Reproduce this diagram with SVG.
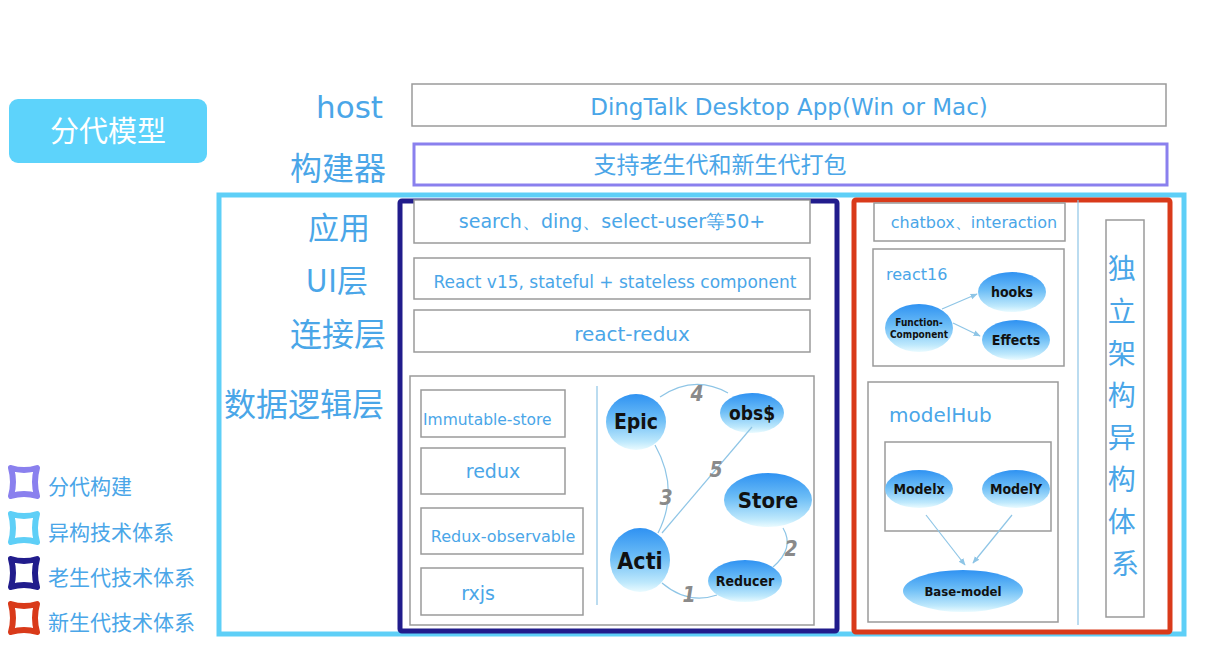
<svg xmlns="http://www.w3.org/2000/svg" width="1218" height="650" viewBox="0 0 1218 650">
<style>
.t{font-family:"Noto Sans CJK SC","Noto Sans",sans-serif;fill:#4aa6e8}
.en{font-family:"DejaVu Sans","Noto Sans",sans-serif;fill:#4aa6e8}
.box{fill:#fff;stroke:#9a9a9a;stroke-width:1.5}
.bub{fill:url(#g);}
.bl{font-family:"DejaVu Sans Condensed","DejaVu Sans",sans-serif;font-stretch:condensed;font-weight:bold;fill:#111;text-anchor:middle}
.num{font-family:"DejaVu Sans Condensed","DejaVu Sans",sans-serif;font-style:italic;font-weight:bold;fill:#8a8a8a;font-size:21px;text-anchor:middle}
.ln{fill:none;stroke:#8ec5e6;stroke-width:1.2}
.c{text-anchor:middle}
.r{text-anchor:end}
</style>
<defs>
<linearGradient id="g" x1="0" y1="0" x2="0" y2="1">
<stop offset="0" stop-color="#2f92f2"/>
<stop offset="0.45" stop-color="#6cbdf6"/>
<stop offset="0.85" stop-color="#bde8fc"/>
<stop offset="1" stop-color="#eafbff"/>
</linearGradient>
<marker id="ar" viewBox="0 0 10 10" refX="9" refY="5" markerWidth="6" markerHeight="6" orient="auto">
<path d="M0,1 L10,5 L0,9 z" fill="#8ec5e6"/>
</marker>
</defs>
<rect width="1218" height="650" fill="#fff"/>

<g id="title">
<rect x="9" y="99" width="198" height="64" rx="9" fill="#5dd3fb"/>
<text x="108" y="142" class="t c" style="fill:#fff" font-size="29">分代模型</text>
</g>

<g id="labels">
<text x="383" y="118" class="en r" font-size="31">host</text>
<text x="386" y="180" class="t r" font-size="32">构建器</text>
<text x="370" y="239" class="t r" font-size="31">应用</text>
<text x="368" y="292" class="t r" font-size="31">UI层</text>
<text x="386" y="346" class="t r" font-size="32">连接层</text>
<text x="384" y="416" class="t r" font-size="32">数据逻辑层</text>
</g>

<g id="host">
<rect x="412" y="84" width="754" height="42" class="box"/>
<text x="789" y="115" class="en c" font-size="23">DingTalk Desktop App(Win or Mac)</text>
</g>
<g id="builder">
<rect x="414" y="144" width="753" height="41" fill="#fff" stroke="#8a80ee" stroke-width="3"/>
<text x="720" y="173" class="t c" font-size="23">支持老生代和新生代打包</text>
</g>

<g id="hetero">
<rect x="219" y="195" width="965" height="439" fill="none" stroke="#5ecff7" stroke-width="5"/>
</g>

<g id="old-gen">
<rect x="400" y="201" width="437" height="430" fill="none" stroke="#211c8c" stroke-width="5" rx="2"/>
<rect x="414" y="200" width="396" height="43" class="box"/>
<text x="612" y="228" class="en c" font-size="19">search、ding、select-user等50+</text>
<rect x="414" y="258" width="396" height="41" class="box"/>
<text x="615" y="288" class="en c" font-size="17">React v15, stateful + stateless component</text>
<rect x="414" y="310" width="396" height="42" class="box"/>
<text x="632" y="341" class="en c" font-size="20">react-redux</text>
</g>

<g id="data-logic">
<rect x="410" y="376" width="404" height="249" class="box"/>
<rect x="421" y="390" width="144" height="47" class="box"/>
<text x="423" y="425" class="en" font-size="15.5">Immutable-store</text>
<rect x="421" y="448" width="144" height="46" class="box"/>
<text x="493" y="478" class="en c" font-size="19">redux</text>
<rect x="421" y="508" width="162" height="46" class="box"/>
<text x="503" y="542" class="en c" font-size="16">Redux-observable</text>
<rect x="421" y="568" width="162" height="47" class="box"/>
<text x="478" y="600" class="en c" font-size="19">rxjs</text>
<line x1="597" y1="386" x2="597" y2="605" stroke="#8ec5e6" stroke-width="1.2"/>
</g>

<g id="epic"><ellipse cx="636" cy="422" rx="30" ry="28" class="bub"/><text x="636" y="429" class="bl" font-size="21">Epic</text></g>
<g id="obs"><ellipse cx="752" cy="413" rx="32" ry="20" class="bub"/><text x="752" y="420" class="bl" font-size="19">obs$</text></g>
<g id="store"><ellipse cx="768" cy="500" rx="44" ry="27" class="bub"/><text x="768" y="508" class="bl" font-size="22">Store</text></g>
<g id="acti"><ellipse cx="640" cy="560" rx="30" ry="32" class="bub"/><text x="640" y="569" class="bl" font-size="23">Acti</text></g>
<g id="reducer"><ellipse cx="745" cy="581" rx="37" ry="21" class="bub"/><text x="745" y="586" class="bl" font-size="14">Reducer</text></g>

<g id="new-gen">
<rect x="854" y="200" width="316" height="432" fill="none" stroke="#d93a1a" stroke-width="5" rx="2"/>
<rect x="874" y="203" width="191" height="38" class="box"/>
<text x="974" y="228" class="en c" font-size="16">chatbox、interaction</text>
<line x1="1078" y1="200" x2="1078" y2="625" stroke="#8ec5e6" stroke-width="1.2"/>
</g>

<g id="react16">
<rect x="873" y="249" width="191" height="117" class="box"/>
<text x="886" y="280" class="en" font-size="16">react16</text>
</g>
<g id="function-component"><ellipse cx="919" cy="328" rx="34" ry="24" class="bub"/><text x="919" y="326" class="bl" font-size="10">Function-</text><text x="919" y="338" class="bl" font-size="10">Component</text></g>
<g id="hooks"><ellipse cx="1012" cy="292" rx="34" ry="20" class="bub"/><text x="1012" y="297" class="bl" font-size="14">hooks</text></g>
<g id="effects"><ellipse cx="1016" cy="340" rx="34" ry="20" class="bub"/><text x="1016" y="345" class="bl" font-size="14">Effects</text></g>

<g id="modelhub">
<rect x="868" y="382" width="190" height="240" class="box"/>
<text x="889" y="422" class="en" font-size="20">modelHub</text>
<rect x="885" y="442" width="166" height="89" class="box"/>
</g>
<g id="modelx"><ellipse cx="919" cy="489" rx="34" ry="19" class="bub"/><text x="919" y="494" class="bl" font-size="14">Modelx</text></g>
<g id="modely"><ellipse cx="1016" cy="489" rx="34" ry="19" class="bub"/><text x="1016" y="494" class="bl" font-size="14">ModelY</text></g>
<g id="base-model"><ellipse cx="963" cy="591" rx="60" ry="21" class="bub"/><text x="963" y="596" class="bl" font-size="13">Base-model</text></g>

<g id="connectors">
<path d="M660,397 Q694,374 728,393" class="ln"/>
<path d="M655,445 Q680,490 658,533" class="ln"/>
<path d="M662,533 L752,427" class="ln"/>
<path d="M783,528 Q795,548 773,567" class="ln"/>
<path d="M662,583 Q688,605 717,595" class="ln"/>
<path d="M942,309 L977,294" class="ln" marker-end="url(#ar)"/>
<path d="M953,323 L980,336" class="ln" marker-end="url(#ar)"/>
<path d="M926,515 L965,565" class="ln" marker-end="url(#ar)"/>
<path d="M1012,515 L973,563" class="ln" marker-end="url(#ar)"/>
</g>

<g id="nums">
<text x="697" y="401" class="num">4</text>
<text x="666" y="505" class="num">3</text>
<text x="716" y="477" class="num">5</text>
<text x="791" y="556" class="num">2</text>
<text x="689" y="602" class="num">1</text>
</g>

<g id="independent">
<rect x="1106" y="220" width="38" height="397" class="box"/>
<text class="t c" font-size="28">
<tspan x="1125" y="279">独</tspan>
<tspan x="1125" y="322">立</tspan>
<tspan x="1125" y="364">架</tspan>
<tspan x="1125" y="406">构</tspan>
<tspan x="1125" y="448">异</tspan>
<tspan x="1125" y="490">构</tspan>
<tspan x="1125" y="532">体</tspan>
<tspan x="1125" y="574">系</tspan>
</text>
</g>

<g id="legend">
<path d="M11,468 Q24,472 37,468 Q33,482 37,496 Q24,492 11,496 Q15,482 11,468 z" fill="none" stroke="#8a80ee" stroke-width="6" stroke-linejoin="round"/>
<text x="48" y="494" class="t" font-size="21">分代构建</text>
<path d="M11,514 Q24,518 37,514 Q33,528 37,542 Q24,538 11,542 Q15,528 11,514 z" fill="none" stroke="#5ecff7" stroke-width="6" stroke-linejoin="round"/>
<text x="48" y="540" class="t" font-size="21">异构技术体系</text>
<path d="M11,559 Q24,563 37,559 Q33,573 37,587 Q24,583 11,587 Q15,573 11,559 z" fill="none" stroke="#211c8c" stroke-width="6" stroke-linejoin="round"/>
<text x="48" y="585" class="t" font-size="21">老生代技术体系</text>
<path d="M11,604 Q24,608 37,604 Q33,618 37,632 Q24,628 11,632 Q15,618 11,604 z" fill="none" stroke="#d93a1a" stroke-width="6" stroke-linejoin="round"/>
<text x="48" y="630" class="t" font-size="21">新生代技术体系</text>
</g>
</svg>
